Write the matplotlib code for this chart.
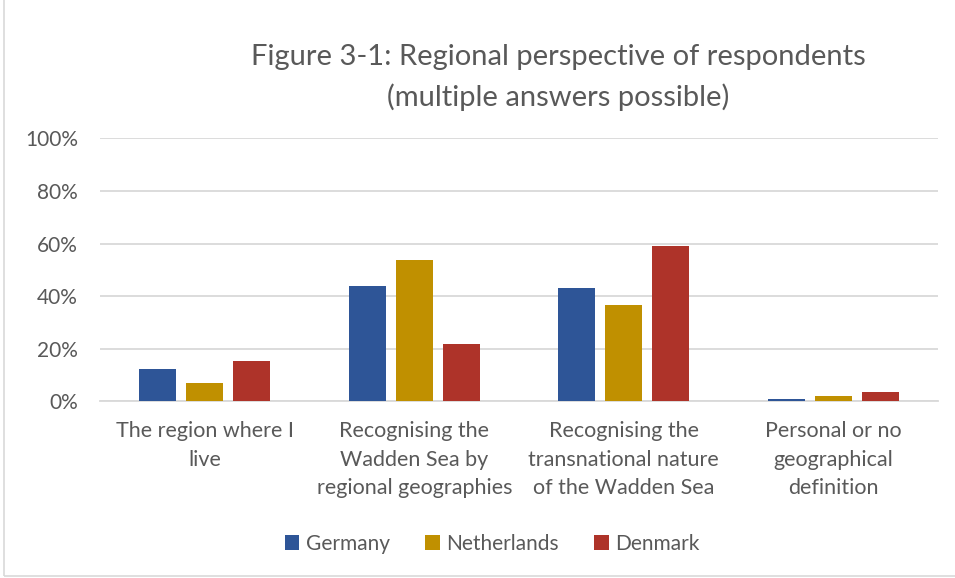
import matplotlib
matplotlib.use("Agg")
import matplotlib.pyplot as plt
import numpy as np
from matplotlib.patches import Rectangle

categories = ["The region where I\nlive",
              "Recognising the\nWadden Sea by\nregional geographies",
              "Recognising the\ntransnational nature\nof the Wadden Sea",
              "Personal or no\ngeographical\ndefinition"]
series_names = ["Germany", "Netherlands", "Denmark"]
germany = [12.2, 43.7, 43.0, 1.0]
netherlands = [7.1, 53.8, 36.8, 2.2]
denmark = [15.3, 21.7, 59.2, 3.7]
colors = ["#2E5597", "#C09000", "#AE3329"]
yticks = [0, 20, 40, 60, 80, 100]

plt.rcParams['font.family'] = ['Lato', 'DejaVu Sans']
text_color = "#595959"

fig = plt.figure(figsize=(9.55, 5.78), dpi=100)
ax = fig.add_axes([100/955, 1-401.3/578, 838/955, (401.3-138.3)/578])

x = np.arange(len(categories))
w = 0.177
step = 0.224
for i, (vals, name, c) in enumerate(zip([germany, netherlands, denmark], series_names, colors)):
    ax.bar(x + (i-1)*step, vals, width=w, color=c, label=name, zorder=3)

ax.set_xlim(-0.5, len(categories)-0.5)
ax.set_ylim(0, 100)
ax.set_yticks(yticks)
ax.set_yticklabels([f"{t}%" for t in yticks], fontsize=15, color=text_color)
ax.set_xticks(x)
ax.set_xticklabels(categories, fontsize=15.5, color=text_color, linespacing=1.55)
ax.tick_params(axis='both', length=0)
ax.tick_params(axis='y', pad=16)
ax.tick_params(axis='x', pad=14)
ax.grid(axis='y', color="#D9D9D9", linewidth=1.3, zorder=0)
for s in ["top", "right", "left"]:
    ax.spines[s].set_visible(False)
ax.spines["bottom"].set_color("#D9D9D9")
ax.spines["bottom"].set_linewidth(1.3)

fig.text(558/955, 1-57/578, "Figure 3-1: Regional perspective of respondents",
         ha='center', va='center', fontsize=21, color=text_color)
fig.text(558/955, 1-97/578, "(multiple answers possible)",
         ha='center', va='center', fontsize=21, color=text_color)

leg = fig.legend(loc='center', bbox_to_anchor=(492/955, 1-544/578), ncol=3, frameon=False,
                 fontsize=15, handlelength=0.7, handleheight=0.7, handletextpad=0.3,
                 columnspacing=1.7)
for t in leg.get_texts():
    t.set_color(text_color)

fig.patches.append(Rectangle((4/955, 0.004), 1.2, 1.2, transform=fig.transFigure,
                             fill=False, edgecolor="#D9D9D9", linewidth=1.2))

fig.savefig("out.png", dpi=100)
